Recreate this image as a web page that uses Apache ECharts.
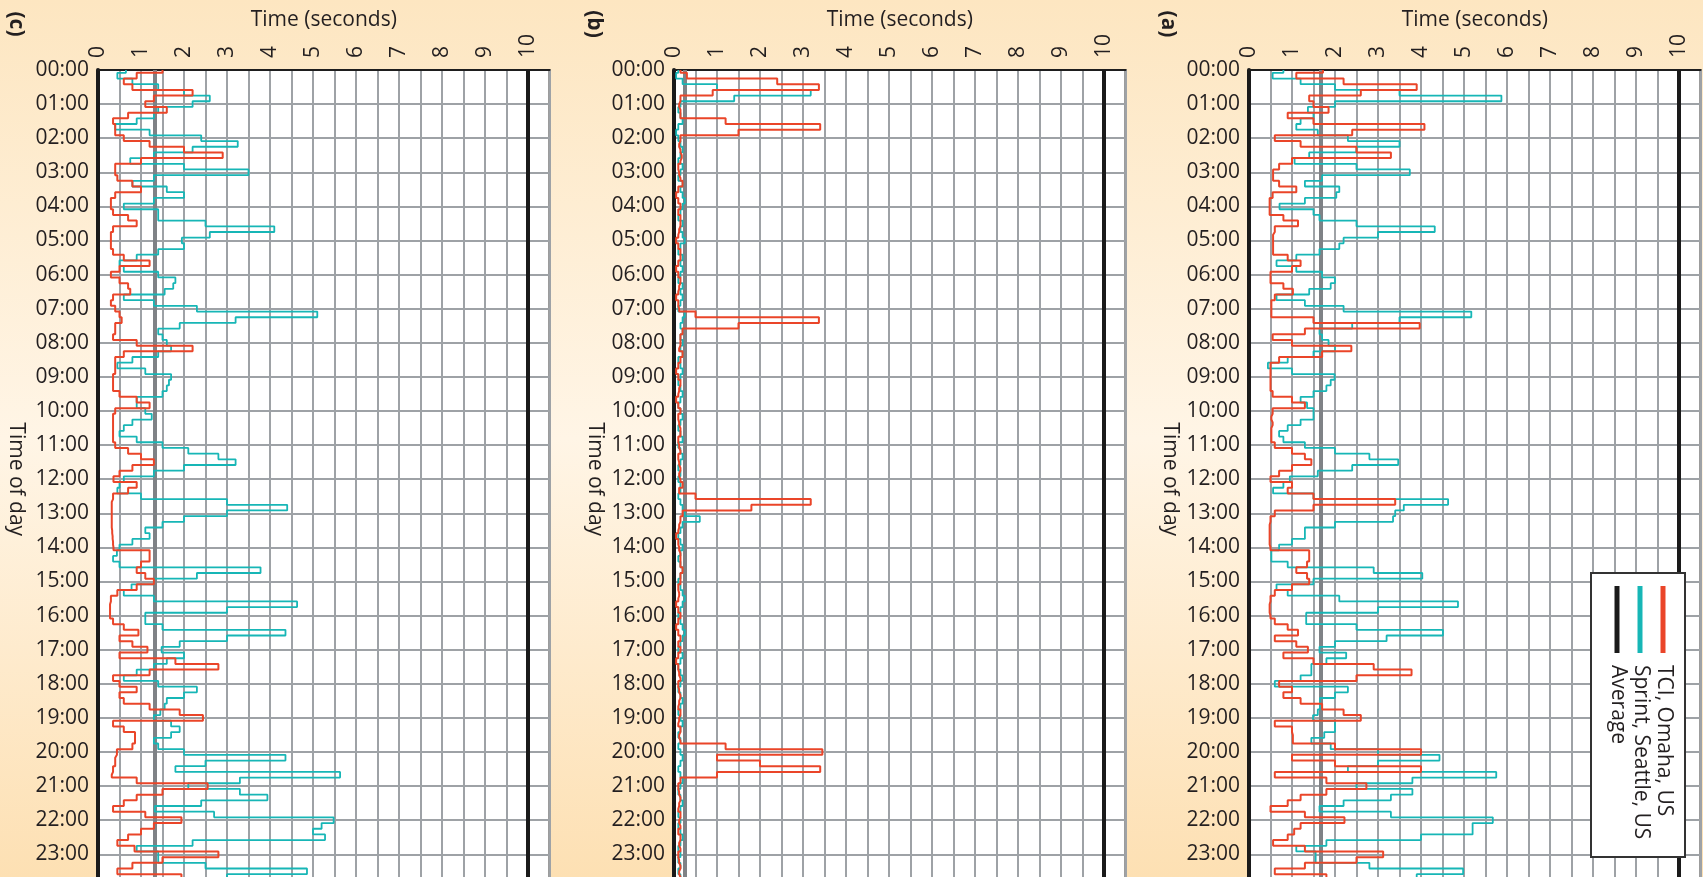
<!DOCTYPE html>
<html>
<head>
<meta charset="utf-8">
<script src="https://cdn.jsdelivr.net/npm/echarts@6/dist/echarts.min.js"></script>
<style>
  html, body { margin: 0; padding: 0; }
  #main { width: 1703px; height: 877px; }
</style>
</head>
<body>
<div id="main"></div>
<script>
// time of day, 10 minute steps (00:00 ... 24:00)
var timeCats = [];
for (var m = 0; m <= 1440; m += 10) {
    var hh = Math.floor(m / 60), mm = m % 60;
    timeCats.push((hh < 10 ? '0' : '') + hh + ':' + (mm < 10 ? '0' : '') + mm);
}
var valueTicks = [0, 1, 2, 3, 4, 5, 6, 7, 8, 9, 10];
var panelNames = ['(c)', '(b)', '(a)'];
var seriesNames = ['TCI, Omaha, US', 'Sprint, Seattle, US', 'Average'];

// panel (c)
var cTci = [1.5, 0.9, 0.6, 0.8, 2.2, 1.3, 1.1, 1.6, 0.7, 0.35, 0.4, 0.4,
    0.6, 1.2, 2.0, 2.9, 1.0, 0.4, 0.4, 0.45, 0.8, 1.0, 0.4, 0.3,
    0.3, 0.35, 0.7, 0.9, 0.35, 0.3, 0.3, 0.3, 0.35, 0.6, 1.2, 0.5,
    0.3, 0.5, 0.7, 0.75, 0.35, 0.3, 0.4, 0.5, 0.55, 0.4, 0.4, 0.35,
    0.9, 2.2, 0.6, 0.4, 0.4, 0.4, 0.35, 0.35, 0.35, 0.5, 0.9, 1.2,
    0.4, 0.35, 0.35, 0.35, 0.35, 0.35, 0.4, 0.7, 1.0, 1.3, 0.8, 0.5,
    0.36, 0.9, 0.7, 0.35, 0.32, 0.32, 0.32, 0.32, 0.32, 0.33, 0.34, 0.35,
    0.36, 1.2, 1.2, 1.0, 0.9, 1.1, 1.3, 0.9, 0.45, 0.3, 0.28, 0.28,
    0.28, 0.35, 0.6, 0.94, 0.5, 0.8, 1.15, 0.5, 1.8, 2.8, 1.2, 0.35,
    0.5, 0.9, 0.5, 0.6, 1.2, 1.9, 2.44, 0.35, 0.6, 0.86, 0.86, 0.8,
    0.44, 0.4, 0.4, 0.35, 0.32, 0.9, 2.55, 1.5, 0.9, 0.6, 0.35, 1.1,
    1.94, 1.3, 1.0, 0.7, 0.45, 0.85, 2.8, 1.5, 0.8, 0.45, 1.94, 1.0];
var cSprint = [0.65, 0.45, 0.8, 1.4, 2.0, 2.6, 2.2, 1.4, 1.3, 0.9, 0.4, 1.2,
    2.4, 3.25, 2.2, 1.3, 0.75, 2.0, 3.5, 1.3, 0.8, 1.6, 2.0, 1.3,
    0.6, 1.4, 1.4, 2.5, 4.1, 2.6, 1.95, 2.0, 1.4, 0.9, 0.5, 0.6,
    1.4, 1.8, 1.75, 1.55, 0.6, 1.3, 2.3, 5.1, 3.2, 1.9, 1.4, 1.5,
    1.6, 1.7, 1.4, 0.8, 0.45, 1.1, 1.7, 1.65, 1.6, 1.5, 0.9, 0.9,
    1.1, 1.25, 0.8, 0.6, 0.5, 0.9, 1.5, 2.1, 2.8, 3.2, 2.0, 1.3,
    0.6, 0.5, 0.45, 1.0, 3.0, 4.4, 3.0, 2.0, 1.5, 1.1, 1.2, 0.8,
    0.5, 0.44, 0.35, 0.5, 3.78, 2.3, 1.3, 0.78, 0.6, 1.3, 4.63, 3.0,
    1.1, 1.1, 1.5, 4.36, 3.0, 1.9, 1.48, 2.0, 1.6, 1.3, 0.9, 0.6,
    1.4, 2.3, 2.0, 1.6, 1.55, 1.45, 1.3, 1.7, 1.9, 1.7, 1.3, 1.4,
    2.0, 4.36, 2.5, 1.8, 5.63, 3.3, 2.1, 3.3, 3.94, 2.4, 1.32, 2.7,
    5.48, 5.2, 5.0, 5.28, 2.2, 0.9, 1.4, 1.4, 2.5, 4.86, 3.0, 2.3];

// panel (b)
var bTci = [0.15, 0.3, 2.4, 3.37, 0.9, 0.15, 0.12, 0.15, 0.15, 1.2, 3.4, 1.5,
    0.15, 0.12, 0.15, 0.18, 0.15, 0.1, 0.12, 0.15, 0.2, 0.1, 0.05, 0.1,
    0.15, 0.1, 0.15, 0.15, 0.12, 0.1, 0.05, 0.1, 0.15, 0.15, 0.1, 0.05,
    0.1, 0.15, 0.12, 0.1, 0.05, 0.1, 0.12, 0.5, 3.37, 1.5, 0.2, 0.15,
    0.15, 0.12, 0.2, 0.15, 0.1, 0.05, 0.1, 0.15, 0.12, 0.1, 0.05, 0.1,
    0.15, 0.1, 0.12, 0.15, 0.15, 0.1, 0.12, 0.15, 0.1, 0.12, 0.15, 0.12,
    0.15, 0.2, 0.12, 0.5, 3.18, 1.8, 0.2, 0.15, 0.12, 0.1, 0.05, 0.1,
    0.12, 0.15, 0.15, 0.15, 0.2, 0.15, 0.15, 0.1, 0.12, 0.1, 0.05, 0.1,
    0.15, 0.1, 0.05, 0.1, 0.15, 0.1, 0.15, 0.1, 0.05, 0.1, 0.12, 0.15,
    0.1, 0.12, 0.15, 0.12, 0.1, 0.15, 0.12, 0.1, 0.15, 0.12, 0.15, 1.2,
    3.45, 1.0, 2.0, 3.4, 1.0, 0.15, 0.1, 0.12, 0.15, 0.12, 0.1, 0.15,
    0.12, 0.15, 0.1, 0.15, 0.12, 0.15, 0.1, 0.12, 0.15, 0.12, 0.15, 0.12];
var bSprint = [0.1, 0.05, 0.2, 1.0, 3.18, 1.4, 0.15, 0.1, 0.15, 0.2, 0.1, 0.05,
    0.1, 0.15, 0.2, 0.15, 0.1, 0.2, 0.15, 0.1, 0.2, 0.15, 0.2, 0.25,
    0.2, 0.15, 0.1, 0.2, 0.15, 0.2, 0.25, 0.15, 0.1, 0.2, 0.15, 0.2,
    0.15, 0.1, 0.2, 0.15, 0.2, 0.15, 0.1, 0.25, 0.2, 0.15, 0.2, 0.15,
    0.2, 0.15, 0.2, 0.1, 0.15, 0.2, 0.15, 0.1, 0.15, 0.2, 0.15, 0.1,
    0.15, 0.2, 0.15, 0.1, 0.15, 0.2, 0.1, 0.15, 0.2, 0.15, 0.1, 0.15,
    0.1, 0.15, 0.15, 0.1, 0.15, 0.2, 0.25, 0.6, 0.2, 0.15, 0.1, 0.15,
    0.2, 0.15, 0.1, 0.15, 0.2, 0.15, 0.1, 0.15, 0.2, 0.25, 0.2, 0.15,
    0.1, 0.15, 0.2, 0.25, 0.2, 0.15, 0.1, 0.2, 0.15, 0.1, 0.15, 0.2,
    0.15, 0.1, 0.15, 0.2, 0.15, 0.1, 0.15, 0.2, 0.15, 0.1, 0.15, 0.1,
    0.15, 0.2, 0.15, 0.1, 0.15, 0.2, 0.15, 0.1, 0.15, 0.2, 0.15, 0.1,
    0.15, 0.1, 0.15, 0.2, 0.15, 0.1, 0.15, 0.1, 0.15, 0.1, 0.15, 0.5];

// panel (a)
var aTci = [1.72, 1.1, 2.2, 3.9, 2.6, 1.4, 1.5, 1.85, 0.9, 1.5, 4.08, 2.4,
    0.6, 1.2, 2.5, 3.3, 1.0, 0.7, 0.56, 0.56, 0.7, 1.1, 0.55, 0.48,
    0.48, 0.48, 0.8, 1.14, 0.6, 0.56, 0.56, 0.56, 0.56, 0.9, 1.2, 1.0,
    0.5, 0.5, 0.8, 1.02, 0.6, 0.52, 0.52, 0.52, 1.5, 3.97, 1.3, 0.55,
    1.0, 2.38, 1.7, 0.7, 0.5, 0.5, 0.5, 0.5, 0.5, 0.55, 1.0, 1.3,
    0.55, 0.52, 0.55, 0.52, 0.52, 0.52, 0.6, 1.0, 1.3, 1.45, 1.0, 0.7,
    0.5, 1.0, 0.9, 1.5, 3.4, 1.5, 0.6, 0.5, 0.48, 0.48, 0.48, 0.48,
    0.5, 1.4, 1.4, 1.35, 1.1, 1.35, 1.4, 1.0, 0.6, 0.5, 0.48, 0.48,
    0.5, 0.6, 0.9, 1.14, 0.6, 1.1, 1.37, 0.8, 1.5, 2.9, 3.78, 2.5,
    0.7, 1.0, 0.8, 1.2, 1.7, 2.2, 2.6, 0.6, 1.0, 1.02, 1.02, 2.0,
    4.0, 1.0, 2.0, 4.0, 0.6, 1.8, 2.73, 1.8, 1.2, 0.9, 0.5, 1.3,
    2.22, 1.2, 1.05, 0.9, 0.56, 1.3, 3.12, 2.5, 1.3, 0.6, 1.8, 1.2];
var aSprint = [0.8, 0.55, 1.2, 2.0, 3.5, 5.87, 2.0, 1.37, 1.5, 1.2, 1.1, 1.6,
    2.3, 3.5, 2.5, 1.4, 1.06, 2.5, 3.74, 1.7, 1.3, 2.1, 2.03, 1.3,
    0.71, 1.5, 1.64, 2.5, 4.32, 3.0, 2.2, 2.1, 1.64, 1.1, 0.64, 1.1,
    1.7, 2.0, 1.9, 1.4, 0.64, 1.3, 2.2, 5.17, 3.5, 2.4, 1.64, 1.7,
    1.85, 2.0, 1.5, 0.9, 0.44, 1.0, 1.99, 1.9, 1.8, 1.5, 1.2, 1.35,
    1.5, 1.5, 1.2, 0.9, 0.7, 0.8, 1.3, 2.0, 2.8, 3.47, 2.4, 1.6,
    0.95, 0.8, 0.56, 1.5, 4.63, 3.6, 3.4, 3.35, 2.0, 1.3, 1.3, 1.0,
    0.7, 0.52, 0.52, 0.9, 2.9, 4.03, 1.5, 0.64, 0.9, 2.1, 4.86, 3.0,
    1.33, 1.33, 2.5, 4.51, 3.2, 2.0, 1.64, 2.26, 1.8, 1.45, 1.45, 1.2,
    0.6, 2.3, 2.0, 1.65, 1.65, 1.6, 1.49, 2.0, 2.0, 1.75, 1.45, 1.9,
    3.0, 4.43, 3.0, 2.3, 5.75, 3.8, 2.5, 3.8, 3.3, 2.2, 1.64, 3.3,
    5.67, 5.2, 5.2, 4.0, 1.8, 1.1, 1.55, 1.55, 2.8, 4.98, 3.9, 3.0];

var averages = [1.31, 0.25, 1.67];

var tciData = [cTci, bTci, aTci];
var sprintData = [cSprint, bSprint, aSprint];

var red = '#ea4529';
var teal = '#17b6b6';
var ink = '#231f20';
var gridGray = '#9ea2a6';
var font = '"Open Sans", "Noto Sans", sans-serif';

var myChart = echarts.init(document.getElementById('main'));

var lefts = [98, 674, 1249];
var nameGapsY = [72, 69, 69];
var grids = [], xAxes = [], yAxes = [], series = [];
var hourly = function (index) { return index % 6 === 0; };

for (var i = 0; i < 3; i++) {
    grids.push({
        left: lefts[i], top: 70, width: 451.5, height: 818.4,
        outerBoundsMode: 'none',
        show: true, backgroundColor: '#ffffff',
        borderColor: '#3a3a3a', borderWidth: 2
    });
    xAxes.push({
        gridIndex: i,
        type: 'value',
        position: 'top',
        min: 0, max: 10.5, interval: 0.5,
        name: 'Time (seconds)',
        nameLocation: 'middle',
        nameGap: 39,
        nameMoveOverlap: false,
        nameTextStyle: { fontSize: 21, color: ink, fontFamily: font },
        axisLine: { show: true, lineStyle: { color: '#1e1e1e', width: 2 } },
        axisTick: { show: false },
        axisLabel: {
            rotate: -90, margin: 12, fontSize: 21, color: ink, fontFamily: font,
            formatter: function (v) {
                return valueTicks.indexOf(v) >= 0 ? String(v) : '';
            }
        },
        splitLine: { show: true, lineStyle: { color: gridGray, width: 2 } }
    });
    yAxes.push({
        gridIndex: i,
        type: 'category',
        inverse: true,
        boundaryGap: false,
        data: timeCats,
        name: 'Time of day',
        nameLocation: 'middle',
        nameRotate: -90,
        nameGap: nameGapsY[i],
        nameMoveOverlap: false,
        nameTextStyle: { fontSize: 21, color: ink, fontFamily: font },
        axisLine: { show: true, lineStyle: { color: '#1a1a1a', width: 4 } },
        axisTick: { show: false },
        axisLabel: { interval: hourly, fontSize: 21, margin: 9, color: ink, fontFamily: font },
        splitLine: { show: true, interval: hourly, lineStyle: { color: gridGray, width: 2 } }
    });
    // average + 10 s reference lines
    series.push({
        type: 'line', xAxisIndex: i, yAxisIndex: i, data: [],
        markLine: {
            silent: true, symbol: 'none', animation: false,
            label: { show: false },
            data: [
                { xAxis: averages[i], lineStyle: { color: '#7f8286', width: 4, type: 'solid' } },
                { xAxis: 10, lineStyle: { color: '#1a1a1a', width: 4, type: 'solid' } }
            ]
        }
    });
    series.push({
        name: seriesNames[1], type: 'line', xAxisIndex: i, yAxisIndex: i, z: 6,
        step: 'middle', symbol: 'none',
        lineStyle: { color: teal, width: 1.8 },
        data: sprintData[i].map(function (v, k) { return [v, timeCats[k]]; })
    });
    series.push({
        name: seriesNames[0], type: 'line', xAxisIndex: i, yAxisIndex: i, z: 7,
        step: 'middle', symbol: 'none',
        lineStyle: { color: red, width: 2 },
        data: tciData[i].map(function (v, k) { return [v, timeCats[k]]; })
    });
}

var letterX = [16, 594, 1168];
var graphics = [];
for (var j = 0; j < 3; j++) {
    graphics.push({
        type: 'text', x: letterX[j], y: 24, rotation: -Math.PI / 2,
        style: { text: panelNames[j], fill: ink, font: 'bold 21px ' + font, align: 'center', verticalAlign: 'middle' }
    });
}
// legend box inside panel (a)
var legendColors = [red, teal, '#1a1a1a'];
var legendX = [1663, 1640, 1617];
graphics.push({
    type: 'rect', shape: { x: 1591, y: 573, width: 94, height: 284 },
    style: { fill: '#ffffff', stroke: '#333333', lineWidth: 2 }, z: 100
});
for (var n = 0; n < 3; n++) {
    graphics.push({
        type: 'line', shape: { x1: legendX[n], y1: 586, x2: legendX[n], y2: 653 },
        style: { stroke: legendColors[n], lineWidth: 5 }, z: 101
    });
    graphics.push({
        type: 'text', x: legendX[n] + 1, y: 665, rotation: -Math.PI / 2, z: 101,
        style: { text: seriesNames[n], fill: ink, font: '21px ' + font, align: 'left', verticalAlign: 'middle' }
    });
}

var Option = {
    animation: false,
    backgroundColor: {
        type: 'linear', x: 0, y: 0, x2: 0, y2: 1,
        colorStops: [
            { offset: 0, color: '#fde6c1' },
            { offset: 0.5, color: '#fff5e6' },
            { offset: 1, color: '#fde0b3' }
        ]
    },
    grid: grids,
    xAxis: xAxes,
    yAxis: yAxes,
    series: series,
    graphic: graphics
};
myChart.setOption(Option);
</script>
</body>
</html>
